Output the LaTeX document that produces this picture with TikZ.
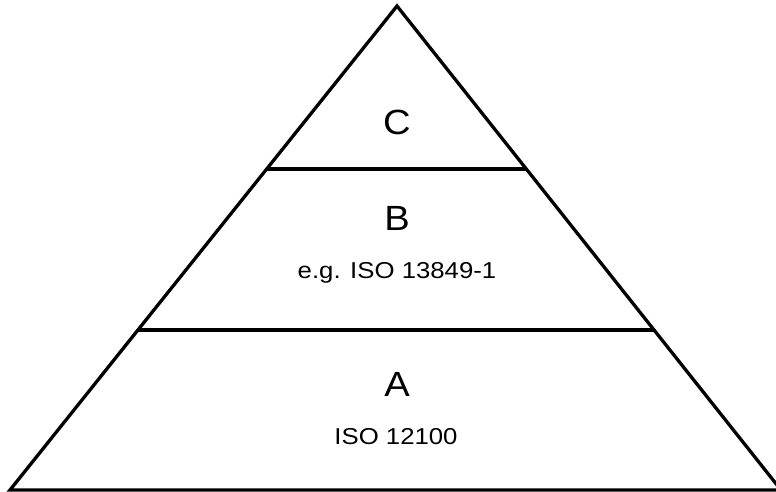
\documentclass[tikz,border=0pt]{standalone}
\usepackage{fontspec}
\setmainfont{Liberation Sans}
\usetikzlibrary{calc}
\begin{document}
\begin{tikzpicture}[x=1pt,y=-1pt,
  edge/.style={line width=3.3pt,black,line join=miter},
  big/.style={anchor=base,inner sep=0pt,font=\fontsize{35}{40}\selectfont,xscale=1.09,transform shape},
  small/.style={anchor=base,inner sep=0pt,font=\fontsize{23}{27}\selectfont,xscale=1.12,transform shape}]
\useasboundingbox (0,0) rectangle (776,491);
\begin{scope}
\clip (0,0) rectangle (776,491);
\coordinate (apex) at (397,6);
\coordinate (bl) at (10,490);
\coordinate (br) at (781,490);
\draw[edge] (bl) -- (apex) -- (br) -- cycle;
\coordinate (l1) at ($(apex)!{(169-6)/484}!(bl)$);
\coordinate (r1) at ($(apex)!{(169-6)/484}!(br)$);
\coordinate (l2) at ($(apex)!{(330-6)/484}!(bl)$);
\coordinate (r2) at ($(apex)!{(330-6)/484}!(br)$);
\draw[edge] (l1) -- (r1);
\draw[edge] (l2) -- (r2);
\end{scope}
\node[big] (c) at (397,134) {C};
\node[big] (b) at (397,230) {B};
\node[small] (bt) at (397,278.5) {e.g. ISO 13849-1};
\node[big] (a) at (397,396) {A};
\node[small] (at) at (396,444) {ISO 12100};
\end{tikzpicture}
\end{document}
